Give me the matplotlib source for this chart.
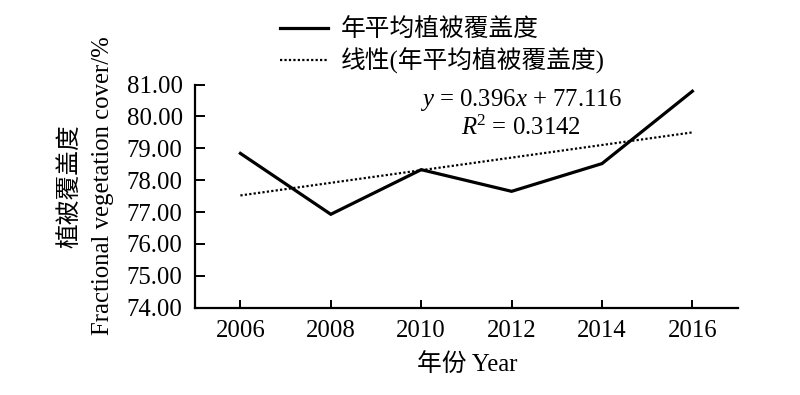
import numpy as np
import matplotlib
matplotlib.use("Agg")
import matplotlib.pyplot as plt
from matplotlib.lines import Line2D

plt.rcParams['font.family'] = ['Liberation Serif', 'Noto Sans CJK SC']
plt.rcParams['mathtext.fontset'] = 'custom'
plt.rcParams['mathtext.rm'] = 'Liberation Serif'
plt.rcParams['mathtext.it'] = 'Liberation Serif:italic'

years = [2006, 2008, 2010, 2012, 2014, 2016]
fvc = [78.84, 76.93, 78.33, 77.65, 78.52, 80.79]
yticks = [74, 75, 76, 77, 78, 79, 80, 81]
series_label = "年平均植被覆盖度"
trend_label = "线性(年平均植被覆盖度)"
eq_text = "$y$ = 0.396$x$ + 77.116"
r2_text = "$R$$^2$ = 0.3142"
ylabel_cn = "植被覆盖度"
ylabel_en = "Fractional vegetation cover/%"
xlabel = "年份 Year"

fs = 17.8
fig = plt.figure(figsize=(8, 3.95), dpi=100)
ax = fig.add_axes([0.244, 0.221, 0.678, 0.565])

ax.plot(years, fvc, color='black', lw=2.3, solid_joinstyle='miter')
xi = np.arange(1, len(years) + 1)
k, b = np.polyfit(xi, fvc, 1)
ax.plot(years, k * xi + b, color='black', lw=1.6, linestyle=(0, (1, 1)))

ax.set_xlim(2005, 2017)
ax.set_ylim(74, 81)
ax.set_xticks(years)
ax.set_yticks(yticks)
ax.set_yticklabels([f"{v:.2f}" for v in yticks])
for s in ['top', 'right']:
    ax.spines[s].set_visible(False)
for s in ['left', 'bottom']:
    ax.spines[s].set_linewidth(1.6)
ax.tick_params(axis='both', direction='in', width=1.4, labelsize=fs)
ax.tick_params(axis='y', length=7, pad=9)
ax.tick_params(axis='x', length=6, pad=9)

ax.text(0.600, 0.93, eq_text, transform=ax.transAxes, ha='center', va='center', fontsize=fs)
ax.text(0.600, 0.805, r2_text, transform=ax.transAxes, ha='center', va='center', fontsize=fs)

fig.text(0.088, 0.53, ylabel_cn, rotation=90, ha='center', va='center', fontsize=fs)
fig.text(0.129, 0.53, ylabel_en, rotation=90, ha='center', va='center', fontsize=fs)
fig.text(0.584, 0.077, xlabel, ha='center', va='center', fontsize=fs)

handles = [Line2D([], [], color='black', lw=2.3),
           Line2D([], [], color='black', lw=1.6, linestyle=(0, (1, 1)))]
fig.legend(handles, [series_label, trend_label], loc='upper left',
           bbox_to_anchor=(0.322, 1.01), frameon=False, fontsize=fs,
           handlelength=1.95, handletextpad=0.5, labelspacing=0.25)

fig.savefig("out.png", dpi=100)
